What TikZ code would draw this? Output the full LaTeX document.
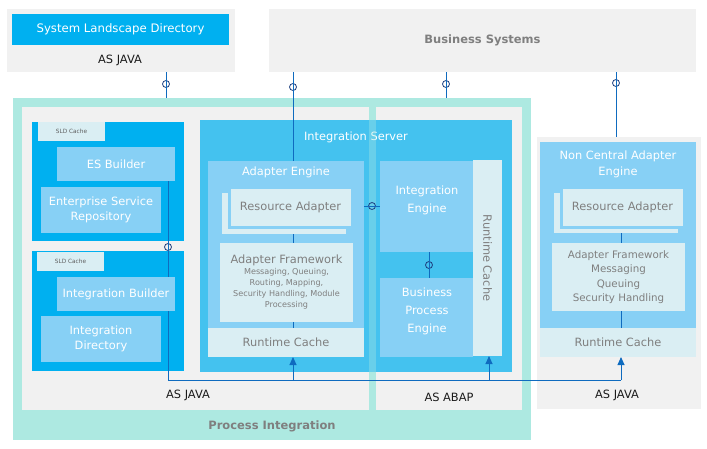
\documentclass[tikz,border=0pt]{standalone}
\usepackage{fontspec}
\setmainfont{DejaVu Sans}
\usetikzlibrary{arrows.meta}
\definecolor{cGray}{HTML}{F1F1F1}
\definecolor{cSky}{HTML}{00B0F0}
\definecolor{cMid}{HTML}{44C2EF}
\definecolor{cLite}{HTML}{87D0F5}
\definecolor{cPale}{HTML}{DAEEF3}
\definecolor{cTeal}{HTML}{ADE9E1}
\definecolor{cLine}{HTML}{0F6BBF}
\definecolor{cRing}{HTML}{1F3F7F}
\definecolor{cTxt}{HTML}{7F7F7F}
\definecolor{cDark}{HTML}{1A1A1A}
\tikzset{
  blk/.style={inner sep=0pt, outer sep=0pt, align=center},
  grayb/.style={fill=cGray},
  skyb/.style={fill=cSky},
  midb/.style={fill=cMid},
  liteb/.style={fill=cLite, text=white, font=\fontsize{11.4}{14.5}\selectfont},
  paleb/.style={fill=cPale, text=cTxt, font=\fontsize{11.4}{14.5}\selectfont},
  frontb/.style={paleb, draw=cLite, line width=3pt},
  cacheb/.style={fill=cPale, text=cDark!70, font=\fontsize{5.8}{8}\selectfont},
  wlbl/.style={text=white, align=center, inner sep=0pt, font=\fontsize{11.4}{16}\selectfont},
  jlbl/.style={text=cDark, inner sep=0pt, font=\fontsize{11.4}{14}\selectfont},
  glbl/.style={text=cTxt, inner sep=0pt, font=\bfseries\fontsize{11.5}{14}\selectfont},
  conn/.style={draw=cLine, line width=0.9pt},
  arr/.style={conn, -{Triangle[length=8pt,width=7pt]}},
  plug/.style={circle, draw=cRing, line width=0.8pt, inner sep=0pt, minimum size=7pt},
}
% box by its corners: [style]{name}{x1}{y1}{x2}{y2} {text};
\newcommand{\blk}[6][]{\node[blk,#1, minimum width={(#5-#3)*1pt}, minimum height={(#6-#4)*1pt}] (#2) at ({(#3+#5)/2},{(#4+#6)/2})}

\begin{document}
\begin{tikzpicture}[x=1pt, y=-1pt]
\useasboundingbox (0,0) rectangle (707,448);
% top systems
\blk[grayb]{sldsys}{7}{9}{235}{72} {};
\blk[skyb, text=white, font=\fontsize{11.7}{14}\selectfont]{sld}{12}{14}{229}{45} {System Landscape Directory};
\node[jlbl] (sldjava) at (120,60) {AS JAVA};
\blk[grayb, text=cTxt, font=\bfseries\fontsize{11.5}{14}\selectfont]{bizsys}{269}{9}{696}{72} {Business Systems};

% process integration
\blk[fill=cTeal]{pi}{13}{98}{531}{440} {};
\blk[grayb]{pijava}{22}{107}{369}{410} {};
\blk[grayb]{piabap}{376}{107}{522}{410} {};
\node[jlbl] (pijavatxt) at (188,395) {AS JAVA};
\node[jlbl] (piabaptxt) at (449,397) {AS ABAP};
\node[glbl] (pitxt) at (272,426) {Process Integration};

% repository and directory
\blk[skyb]{esr}{32}{122}{184}{241} {};
\blk[cacheb]{sldc1}{38}{122}{105}{141} {SLD Cache};
\blk[liteb]{esb}{57}{147}{175}{181} {ES Builder};
\blk[liteb]{esrep}{41}{187}{161}{233} {Enterprise Service\\Repository};
\blk[skyb]{dir}{32}{251}{184}{371} {};
\blk[cacheb]{sldc2}{37}{252}{104}{271} {SLD Cache};
\blk[liteb]{ib}{57}{277}{175}{311} {Integration Builder};
\blk[liteb]{id}{41}{316}{161}{362} {Integration\\Directory};

% integration server
\blk[midb]{is}{200}{120}{512}{372} {};
\node[wlbl] (istxt) at (356,137) {Integration Server};
\blk[fill=cLite]{ae}{208}{161}{364}{357} {};
\node[wlbl] (aetxt) at (286,172) {Adapter Engine};
\blk[fill=cPale]{rash}{222}{193}{346}{234} {};
\blk[frontb]{ra}{229}{187}{352}{227} {Resource Adapter};
\blk[paleb, font=\fontsize{8.1}{11}\selectfont]{af}{220}{243}{353}{322} {{\fontsize{11.4}{13}\selectfont Adapter Framework}\\Messaging, Queuing,\\Routing, Mapping,\\Security Handling, Module\\Processing};
\blk[paleb]{rc1}{208}{328}{364}{357} {Runtime Cache};
\blk[fill=cLite]{ie}{380}{161}{473}{252} {};
\node[wlbl, font=\fontsize{11.4}{18}\selectfont] (ietxt) at (427,200) {Integration\\Engine};
\blk[fill=cLite]{bpe}{380}{278}{473}{357} {};
\node[wlbl, font=\fontsize{11.4}{18}\selectfont] (bpetxt) at (427,311) {Business\\Process\\Engine};
\blk[fill=cPale]{rc2}{473}{160}{502}{356} {};
\node[text=cTxt, rotate=-90, inner sep=0pt, font=\fontsize{11.4}{14}\selectfont] (rc2txt) at (rc2.center) {Runtime Cache};
\fill[cTeal, opacity=0.35] (369,120) rectangle (376,372);

% non central adapter engine
\blk[grayb]{nc}{537}{137}{701}{409} {};
\blk[fill=cLite]{nca}{540}{142}{696}{357} {};
\node[wlbl] (ncatxt) at (618,164) {Non Central Adapter\\Engine};
\blk[fill=cPale]{rash2}{554}{193}{678}{233} {};
\blk[frontb]{ra2}{561}{187}{684}{227} {Resource Adapter};
\blk[paleb, font=\fontsize{10.3}{14.5}\selectfont]{af2}{552}{243}{685}{311} {Adapter Framework\\Messaging\\Queuing\\Security Handling};
\blk[paleb]{rc3}{540}{328}{696}{357} {Runtime Cache};
\node[jlbl] (ncjava) at (617,395) {AS JAVA};

% plugs
\node[plug] (p1) at (166,84) {};
\node[plug] (p2) at (293,87) {};
\node[plug] (p3) at (446,84) {};
\node[plug] (p4) at (616,83) {};
\node[plug] (p5) at (372,206) {};
\node[plug] (p6) at (429,265) {};
\node[plug] (p7) at (168,247) {};
\coordinate (j1) at (293,380);
\coordinate (j2) at (489,380);
\coordinate (j3) at (621,380);

% connectors
\draw[conn] (p1 |- sldsys.south) -- (p1 |- pi.north);
\draw[conn] (p2 |- bizsys.south) -- (p2 |- ae.north);
\draw[conn] (p3 |- bizsys.south) -- (p3 |- pi.north);
\draw[conn] (p4 |- bizsys.south) -- (p4 |- nc.north);
\draw[conn] (p2 |- rash.south) -- (p2 |- af.north);
\draw[conn] (p2 |- af.south) -- (p2 |- rc1.north);
\draw[conn] (ae.east |- p5) -- (ie.west |- p5);
\draw[conn] (p6 |- ie.south) -- (p6 |- bpe.north);
\draw[conn] (p7 |- esb.south) -- (p7 |- ib.north);
\draw[conn] (p7 |- ib.south) |- (j3);
\draw[arr] (j1) -- (j1 |- rc1.south);
\draw[arr] (j2) -- (j2 |- rc2.south);
\draw[arr] (j3) -- (j3 |- rc3.south);
\draw[conn] (j3 |- rash2.south) -- (j3 |- af2.north);
\draw[conn] (j3 |- af2.south) -- (j3 |- rc3.north);
\end{tikzpicture}
\end{document}
